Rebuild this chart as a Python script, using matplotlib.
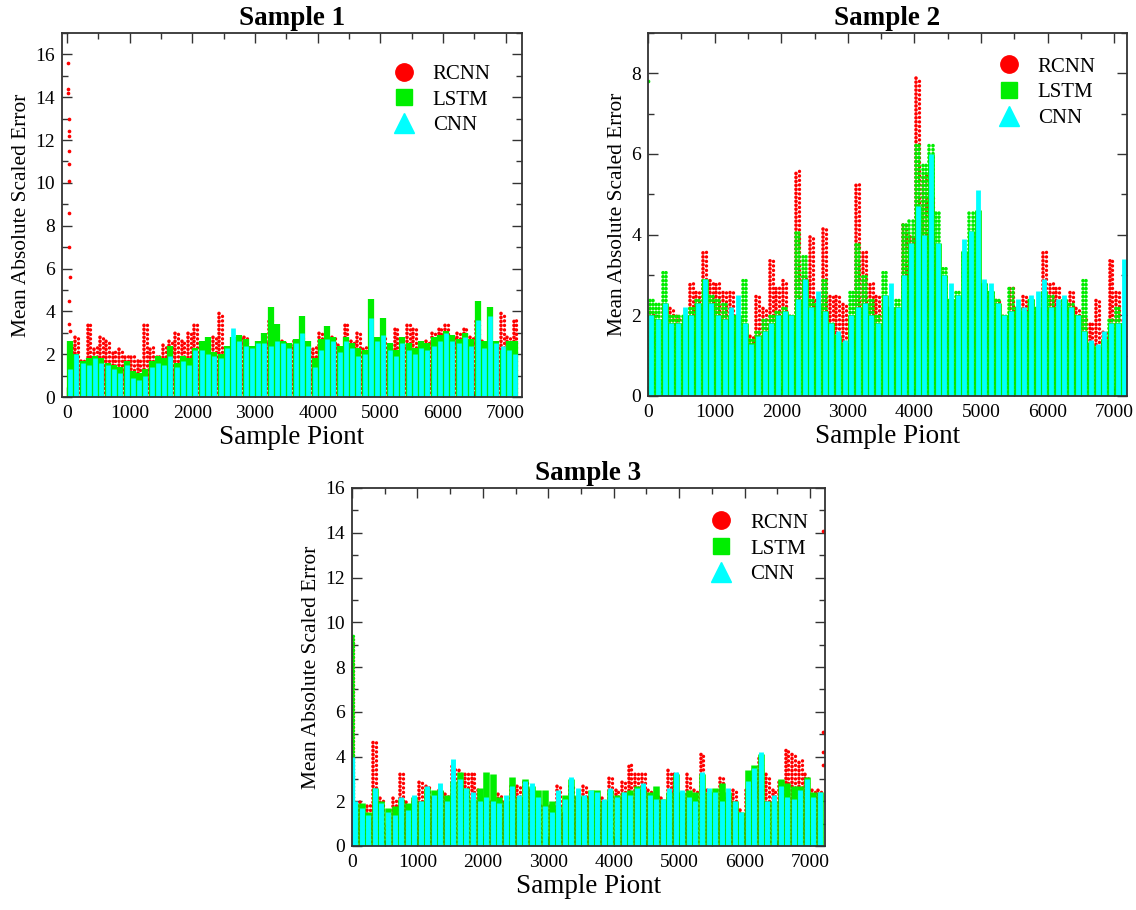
import numpy as np
import matplotlib
matplotlib.use("Agg")
import matplotlib.pyplot as plt
from matplotlib.lines import Line2D
from matplotlib.ticker import MultipleLocator

plt.rcParams['font.family'] = ['Liberation Serif', 'DejaVu Serif']
plt.rcParams['mathtext.fontset'] = 'stix'

# ---------------- data (per-100-sample bin peak values) -------------
series_names = ["RCNN", "LSTM", "CNN"]
bin_size = 100
panel_titles = ["Sample 1", "Sample 2", "Sample 3"]

# Sample 1
rcnn1 = [2.5, 2.8, 1.8, 3.4, 2.4, 2.9, 2.7, 2.2, 2.3, 1.9, 1.9, 1.8, 3.5, 2.4, 2.0, 2.5, 2.6, 3.0,
         2.6, 3.0, 3.4, 2.0, 2.4, 2.9, 3.9, 2.0, 2.4, 2.8, 2.8, 2.3, 2.2, 2.7, 3.6, 2.6, 2.6, 2.5,
         2.6, 2.8, 2.2, 2.4, 3.1, 2.6, 2.9, 2.5, 3.5, 2.7, 3.1, 2.4, 2.4, 2.6, 2.9, 2.2, 3.3, 2.5,
         3.5, 3.3, 2.4, 2.6, 3.1, 3.2, 3.4, 2.8, 3.0, 3.3, 2.8, 3.7, 2.7, 2.6, 2.4, 3.9, 2.9, 3.7]
lstm1 = [2.6, 2.0, 1.7, 1.8, 1.9, 1.8, 1.6, 1.5, 1.4, 1.7, 1.2, 1.1, 1.3, 1.7, 1.9, 1.8, 2.4, 1.6,
         1.9, 1.8, 2.3, 2.6, 2.8, 2.1, 2.0, 2.4, 2.8, 2.9, 2.7, 2.4, 2.6, 3.0, 4.2, 3.4, 2.6, 2.5,
         2.7, 3.8, 2.6, 1.8, 2.7, 3.3, 2.8, 2.4, 2.8, 2.5, 2.3, 2.2, 4.6, 2.8, 3.7, 2.5, 2.2, 2.8,
         2.5, 2.3, 2.6, 2.5, 2.8, 2.9, 3.1, 2.9, 2.7, 3.0, 2.7, 4.5, 2.6, 4.2, 2.6, 2.2, 2.6, 2.6]
cnn1 = [1.3, 2.0, 1.6, 1.5, 1.8, 1.6, 1.5, 1.3, 1.1, 1.5, 0.9, 0.8, 1.0, 1.4, 1.6, 1.5, 1.9, 1.4,
        1.7, 1.5, 2.2, 2.2, 2.0, 1.9, 1.8, 2.3, 3.2, 2.6, 2.4, 2.3, 2.5, 2.5, 2.4, 2.6, 2.5, 2.3,
        2.5, 3.0, 2.4, 1.4, 2.2, 2.7, 2.6, 2.1, 2.6, 2.3, 1.9, 2.0, 3.7, 2.6, 2.9, 2.2, 1.9, 2.5,
        2.2, 2.0, 2.3, 2.2, 2.4, 2.6, 3.0, 2.6, 2.5, 2.8, 2.4, 3.6, 2.3, 3.8, 2.5, 2.4, 2.2, 2.0]
rcnn1_out_x = [15, 18, 20, 24, 26, 28, 30, 32, 34, 36, 38, 40, 36, 38, 40]
rcnn1_out_y = [15.6, 14.4, 14.2, 13.0, 12.4, 12.2, 11.5, 10.9, 10.1, 8.6, 7.0, 5.6, 4.5, 3.4, 3.1]

# Sample 2
rcnn2 = [2.1, 1.8, 2.3, 2.2, 2.0, 1.9, 2.8, 2.6, 3.6, 2.9, 2.8, 2.6, 2.6, 2.0, 1.4, 1.5, 2.5, 2.2,
         3.4, 2.7, 2.9, 2.0, 5.6, 3.0, 4.0, 2.4, 4.2, 2.5, 2.5, 2.3, 1.8, 5.3, 3.6, 2.8, 2.5, 2.2,
         2.0, 2.2, 4.3, 4.0, 7.9, 5.5, 5.0, 3.5, 2.0, 2.0, 2.4, 1.6, 2.2, 1.8, 2.6, 2.0, 2.4, 2.0,
         2.7, 2.0, 2.5, 2.0, 2.1, 3.6, 2.8, 2.7, 2.4, 2.6, 2.2, 2.0, 1.8, 2.4, 1.6, 3.4, 2.6, 1.9]
lstm2 = [2.4, 2.3, 3.1, 2.0, 2.0, 2.0, 2.2, 2.4, 2.9, 2.5, 2.4, 2.3, 2.0, 2.0, 2.9, 1.4, 1.6, 1.9,
         2.0, 2.1, 2.2, 2.0, 4.1, 3.5, 2.4, 2.3, 2.9, 1.8, 1.5, 1.3, 2.6, 3.8, 3.0, 2.4, 2.0, 3.1,
         2.2, 2.4, 4.3, 4.4, 6.3, 5.8, 6.3, 4.6, 3.2, 2.4, 2.6, 3.6, 4.6, 4.6, 2.8, 2.6, 2.4, 2.0,
         2.7, 2.2, 2.1, 2.4, 2.2, 2.6, 2.5, 2.2, 2.4, 2.3, 2.0, 2.9, 1.3, 1.2, 1.4, 1.9, 2.2, 1.8]
cnn2 = [2.0, 1.9, 2.3, 1.8, 1.8, 2.2, 2.0, 2.3, 2.9, 2.3, 2.0, 1.9, 2.2, 2.5, 1.8, 1.3, 1.5, 1.6,
        1.8, 2.0, 2.1, 2.0, 2.4, 2.9, 2.2, 2.6, 2.1, 1.8, 1.6, 1.4, 2.0, 2.2, 2.3, 2.0, 1.8, 2.5,
        2.8, 2.2, 3.0, 3.8, 4.7, 4.0, 6.0, 3.8, 3.0, 2.8, 2.5, 3.9, 4.1, 5.1, 2.9, 2.8, 2.3, 2.0,
        2.1, 2.4, 2.2, 2.5, 2.6, 2.9, 2.2, 2.4, 2.5, 2.2, 2.0, 1.6, 1.4, 1.3, 1.6, 1.8, 1.8, 3.4]
lstm2_out_x = [5]
lstm2_out_y = [7.8]

# Sample 3
rcnn3 = [2.0, 2.0, 1.9, 4.8, 2.2, 1.0, 2.2, 3.3, 2.0, 2.0, 3.0, 2.7, 2.2, 2.5, 2.4, 3.6, 3.4, 3.3,
         3.3, 2.5, 2.0, 2.0, 2.4, 2.0, 2.8, 2.8, 3.0, 2.5, 2.0, 1.8, 1.8, 2.7, 1.5, 2.8, 2.2, 2.8,
         2.2, 1.9, 2.2, 3.1, 2.5, 2.9, 3.7, 3.3, 3.3, 2.6, 2.3, 2.2, 3.4, 3.3, 2.2, 3.2, 2.5, 4.1,
         2.5, 2.0, 3.1, 2.3, 2.5, 1.6, 2.6, 3.3, 4.0, 3.2, 2.5, 3.0, 4.3, 4.1, 3.9, 3.2, 2.5, 2.6]
lstm3 = [1.9, 1.9, 1.5, 2.6, 2.0, 1.7, 1.8, 2.1, 1.9, 2.2, 2.0, 2.6, 2.5, 2.5, 2.3, 2.9, 3.3, 2.6,
         2.1, 2.6, 3.3, 3.2, 2.2, 2.0, 3.1, 2.2, 3.0, 2.7, 2.5, 2.5, 2.0, 1.8, 2.3, 3.0, 2.3, 2.2,
         2.5, 2.5, 2.0, 2.5, 2.3, 2.4, 2.5, 2.7, 2.5, 2.4, 2.7, 2.1, 2.4, 3.2, 2.4, 2.5, 2.4, 3.2,
         2.4, 2.6, 2.8, 2.4, 2.0, 1.5, 3.4, 3.6, 4.1, 2.0, 2.0, 3.0, 2.8, 2.7, 2.7, 3.1, 2.4, 2.4]
cnn3 = [2.0, 1.7, 1.4, 2.6, 1.9, 1.5, 1.4, 2.2, 1.6, 2.3, 2.0, 2.7, 2.3, 2.8, 2.0, 3.9, 3.0, 2.6,
        2.4, 2.0, 2.2, 2.0, 1.9, 2.3, 2.7, 2.3, 2.9, 2.8, 2.2, 1.8, 1.5, 2.5, 2.1, 3.1, 2.6, 2.3,
        2.5, 2.4, 2.1, 2.6, 2.2, 2.4, 2.3, 2.6, 2.8, 2.3, 2.1, 2.1, 2.6, 3.3, 2.5, 2.2, 2.0, 3.3,
        2.6, 2.4, 2.0, 2.6, 2.0, 1.5, 2.9, 3.5, 4.2, 2.0, 2.3, 2.7, 2.2, 2.1, 2.5, 3.0, 2.2, 2.4]
# start-of-series spikes (x, peak) and right-edge red outliers
spike3_x = [12]
rcnn3_spike = [9.3]
lstm3_spike = [9.5]
cnn3_spike = [4.0]
rcnn3_out_x = [7200, 7200, 7200, 7200]
rcnn3_out_y = [14.1, 5.1, 4.2, 3.6]

colors = {"RCNN": "#ff0000", "LSTM": "#00ee00", "CNN": "#00ffff"}
markers = {"RCNN": "o", "LSTM": "s", "CNN": "^"}

# ---------------- figure ----------------
fig = plt.figure(figsize=(11.36, 9.10), dpi=100)
axes_rects = [
    [62 / 1136, 1 - 397 / 910, 460 / 1136, 364 / 910],
    [648 / 1136, 1 - 396 / 910, 479 / 1136, 363 / 910],
    [352 / 1136, 1 - 846 / 910, 473 / 1136, 358 / 910],
]
xlims = [(-80, 7260), (0, 7190), (0, 7230)]
ylims = [(0, 17), (0, 9), (0, 16)]
legend_anchor = [(1.0, 1.0), (1.0, 1.02), (1.03, 1.017)]

data = [
    (rcnn1, lstm1, cnn1),
    (rcnn2, lstm2, cnn2),
    (rcnn3, lstm3, cnn3),
]


def dotted_vlines(ax, x, top, color, lw, z, gap=1.25):
    lc = ax.vlines(x, 0, top, colors=color, linewidth=lw, zorder=z,
                   linestyles=(0, (0.05, gap)))
    lc.set_capstyle('round')
    return lc


for k in range(3):
    ax = fig.add_axes(axes_rects[k])
    r, l, c = data[k]
    xb = np.arange(len(r)) * bin_size + bin_size / 2
    # bin spacing in points
    w_px = axes_rects[k][2] * 1136 / (xlims[k][1] - xlims[k][0]) * bin_size
    w_pt = w_px * 72 / 100
    # RCNN: chains of dots (bottom layer)
    dotted_vlines(ax, xb - 22, r, colors["RCNN"], 2.6, 2, gap=1.05)
    dotted_vlines(ax, xb + 22, r, colors["RCNN"], 2.4, 2, gap=1.3)
    if k == 1:
        ax.vlines(xb, 0, np.minimum(l, c), colors=colors["LSTM"], linewidth=w_pt * 1.0, zorder=3)
        dotted_vlines(ax, xb - 25, l, colors["LSTM"], 2.6, 3, gap=1.05)
        dotted_vlines(ax, xb + 22, l, colors["LSTM"], 2.6, 3, gap=1.05)
        ax.vlines(xb, 0, c, colors=colors["CNN"], linewidth=w_pt * 0.72, zorder=4)
    else:
        ax.vlines(xb, 0, l, colors=colors["LSTM"], linewidth=w_pt * 1.0, zorder=3)
        ax.vlines(xb, 0, c, colors=colors["CNN"], linewidth=w_pt * 0.75, zorder=4)
    if k == 0:
        ax.scatter(rcnn1_out_x, rcnn1_out_y, s=7, color=colors["RCNN"], zorder=5, linewidths=0)
    if k == 1:
        ax.scatter(lstm2_out_x, lstm2_out_y, s=7, color=colors["LSTM"], zorder=5, linewidths=0)
    if k == 2:
        dotted_vlines(ax, spike3_x, rcnn3_spike, colors["RCNN"], 2.4, 2, gap=1.0)
        dotted_vlines(ax, [x + 6 for x in spike3_x], lstm3_spike, colors["LSTM"], 2.4, 3, gap=1.0)
        ax.vlines(spike3_x, 0, cnn3_spike, colors=colors["CNN"], linewidth=2.4, zorder=4)
        ax.scatter(rcnn3_out_x, rcnn3_out_y, s=7, color=colors["RCNN"], zorder=5,
                   linewidths=0, clip_on=False)

    ax.set_xlim(*xlims[k])
    ax.set_ylim(*ylims[k])
    ax.xaxis.set_major_locator(MultipleLocator(1000))
    ax.xaxis.set_minor_locator(MultipleLocator(500))
    ax.yaxis.set_major_locator(MultipleLocator(2))
    ax.yaxis.set_minor_locator(MultipleLocator(1))
    ax.tick_params(which='both', direction='in', top=True, right=True, labelsize=14,
                   color='#333333', width=1)
    ax.tick_params(which='major', length=7)
    ax.tick_params(which='minor', length=4)
    ax.tick_params(axis='x', which='major', pad=6)
    ax.tick_params(axis='y', which='major', pad=5)
    for sp in ax.spines.values():
        sp.set_linewidth(1.3)
        sp.set_color('#333333')
        sp.set_zorder(6)
    ax.set_title(panel_titles[k], fontsize=19.5, fontweight='bold', pad=6)
    ax.set_xlabel("Sample Piont", fontsize=19.5, labelpad=2)
    ax.set_ylabel("Mean Absolute Scaled Error", fontsize=15.4, labelpad=3)

    handles = [Line2D([], [], linestyle='none', marker=markers[n], color=colors[n],
                      markersize={"RCNN": 12.5, "LSTM": 11.5, "CNN": 14}[n]) for n in series_names]
    ax.legend(handles, series_names, loc='upper right', frameon=False, fontsize=15,
              handletextpad=0.4, labelspacing=0.3, borderaxespad=1.1,
              bbox_to_anchor=legend_anchor[k])

fig.savefig("out.png", dpi=100)
